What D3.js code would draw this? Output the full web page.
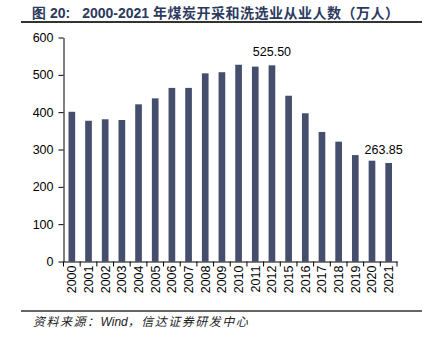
<!DOCTYPE html>
<html><head><meta charset="utf-8">
<script src="https://cdn.jsdelivr.net/npm/d3@7"></script>
<style>body{margin:0;background:#fff;}svg{display:block;}</style>
</head><body><svg id="c" width="427" height="342"></svg>
<script>
const years = ["2000","2001","2002","2003","2004","2005","2006","2007","2008","2009","2010","2011","2012","2015","2016","2017","2018","2019","2020","2021"];
const values = [401, 377, 381, 379, 421, 437, 465, 465, 504, 507, 527, 522, 525.5, 444, 397, 347, 321, 285, 270, 263.85];
const yTicks = [0,100,200,300,400,500,600];
const labels = [{year:"2012", text:"525.50", value:525.5}, {year:"2021", text:"263.85", value:263.85}];

const svg = d3.select("#c");
const m = {l:63.5, r:397, t:37.5, b:261.5};
const x = d3.scaleBand().domain(years).range([m.l, m.r]).paddingInner(0.6).paddingOuter(0.3);
const y = d3.scaleLinear().domain([0,600]).range([m.b, m.t]);
const font = "Liberation Sans, Arial, sans-serif";

// title
const t = svg.append("text").attr("x",32).attr("y",17.5)
  .attr("font-size",14).attr("fill","#2b3a5e");
t.append("tspan").attr("font-family","Liberation Sans, sans-serif").attr("font-weight","bold").text("图 20:");
t.append("tspan").attr("font-family","Liberation Sans, sans-serif").attr("font-weight","bold").attr("dx",12).text("2000-2021 ");
t.append("tspan").attr("font-family","'Noto Sans CJK SC', sans-serif").attr("font-weight","bold").attr("letter-spacing",0.5).text("年煤炭开采和洗选业从业人数（万人）");
svg.append("line").attr("x1",21).attr("x2",422).attr("y1",22).attr("y2",22).attr("stroke","#333").attr("stroke-width",2);

// bars
svg.append("g").selectAll("rect").data(years).join("rect")
  .attr("x", d=>x(d)).attr("width", x.bandwidth())
  .attr("y", (d,i)=>y(values[i])).attr("height",(d,i)=>y(0)-y(values[i]))
  .attr("fill","#454f6d");

// y axis
const ya = svg.append("g").attr("transform",`translate(${m.l},0)`)
  .call(d3.axisLeft(y).tickValues(yTicks).tickSize(5).tickSizeOuter(0));
ya.select(".domain").attr("stroke","#000");
ya.selectAll("text").attr("font-family",font).attr("font-size",12.5).attr("fill","#000").attr("dx","-2");

// x axis
const xa = svg.append("g").attr("transform",`translate(0,${m.b})`)
  .call(d3.axisBottom(x).tickSize(0).tickSizeOuter(0));
xa.select(".domain").attr("stroke","#000");
xa.selectAll("text").attr("font-family",font).attr("font-size",12.5).attr("fill","#000")
  .attr("transform","rotate(-90)").attr("text-anchor","end").attr("dx","-4").attr("dy","0.35em").attr("x",0).attr("y",0);
xa.selectAll(".tick").attr("transform", d=>`translate(${x(d)+x.bandwidth()/2},0)`);
// boundary ticks
const bounds = years.map(d=>x(d)-x.step()*x.paddingInner()/2).concat([m.r]);
svg.append("g").selectAll("line").data(bounds).join("line")
  .attr("x1",d=>d).attr("x2",d=>d).attr("y1",m.b).attr("y2",m.b+5).attr("stroke","#000");

// value labels
svg.append("g").selectAll("text").data(labels).join("text")
  .attr("x", (d,i)=> x(d.year)+x.bandwidth()/2 + (i===1?-5:0))
  .attr("y", d=>y(d.value)-9)
  .attr("text-anchor","middle").attr("font-family",font).attr("font-size",12.5).attr("fill","#000")
  .text(d=>d.text);

// footer
svg.append("line").attr("x1",21).attr("x2",422).attr("y1",311).attr("y2",311).attr("stroke","#333").attr("stroke-width",1.5);
const f = svg.append("text").attr("x",33).attr("y",326).attr("font-size",12).attr("fill","#222").attr("font-style","italic");
f.append("tspan").attr("font-family","'Noto Sans CJK SC', sans-serif").attr("letter-spacing",1.5).text("资料来源：");
f.append("tspan").attr("font-family",font).text("Wind");
f.append("tspan").attr("font-family","'Noto Sans CJK SC', sans-serif").attr("letter-spacing",1.5).text("，信达证券研发中心");
</script></body></html>
